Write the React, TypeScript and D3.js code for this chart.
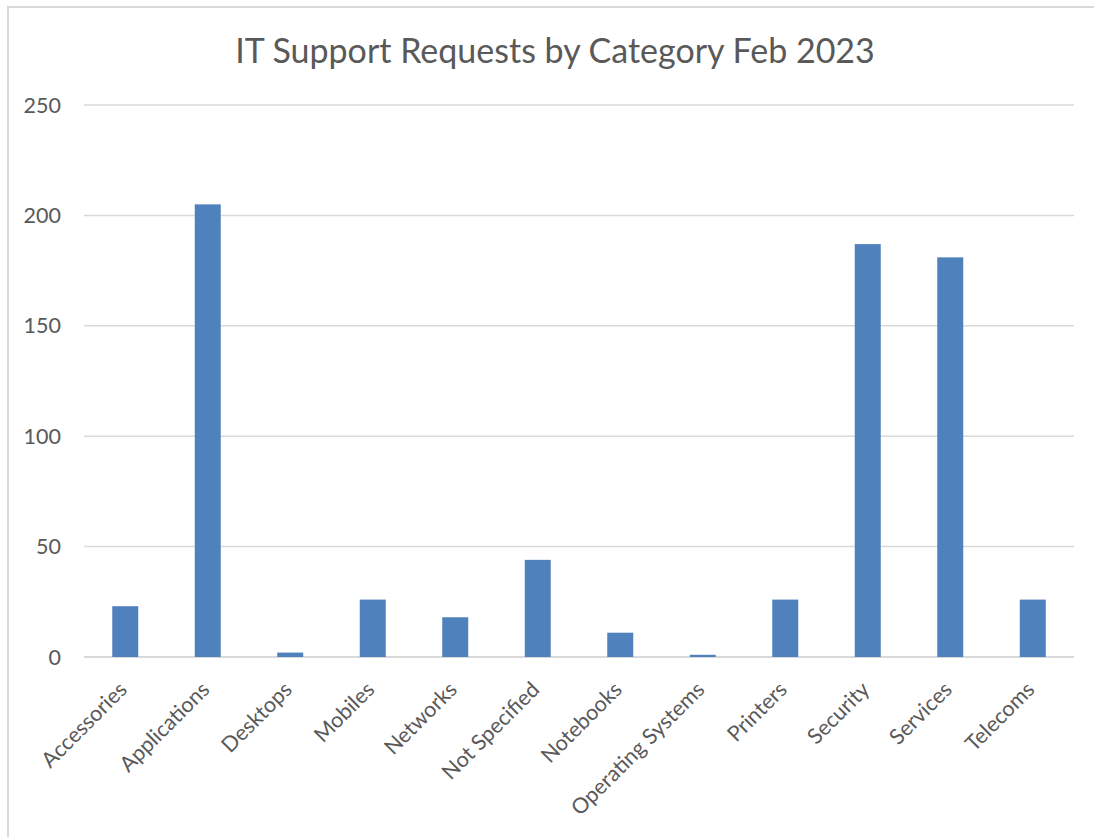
import React from "react";
import * as d3 from "d3";

const categories: string[] = [
  "Accessories",
  "Applications",
  "Desktops",
  "Mobiles",
  "Networks",
  "Not Specified",
  "Notebooks",
  "Operating Systems",
  "Printers",
  "Security",
  "Services",
  "Telecoms",
];
const requests: number[] = [23, 205, 2, 26, 18, 44, 11, 1, 26, 187, 181, 26];
const yTicks: number[] = [0, 50, 100, 150, 200, 250];
const title = "IT Support Requests by Category Feb 2023";

const W = 1094;
const H = 837;
const plot = { left: 84, right: 1074, top: 105, bottom: 657 };
const FONT = "Lato, 'Open Sans', sans-serif";
const TEXT = "#595959";
const GRID = "#D9D9D9";
const BAR = "#4F81BD";

export default function App() {
  const x = d3
    .scaleBand<string>()
    .domain(categories)
    .range([plot.left, plot.right])
    .paddingInner(0.685)
    .paddingOuter(0.3425);
  const y = d3.scaleLinear().domain([0, 250]).range([plot.bottom, plot.top]);

  return (
    <svg
      width={W}
      height={H}
      style={{ position: "absolute", left: 0, top: 0, background: "#fff" }}
      fontFamily={FONT}
    >
      <rect x={0} y={0} width={W} height={H} fill="#fff" />
      {/* chart border */}
      <line x1={8} x2={W} y1={7} y2={7} stroke={GRID} strokeWidth={2} />
      <line x1={8} x2={8} y1={6} y2={H} stroke={GRID} strokeWidth={2} />

      <text x={555} y={63} textAnchor="middle" fontSize={34} fill={TEXT}>
        {title}
      </text>

      {yTicks.map((t) => (
        <g key={t}>
          <line
            x1={plot.left}
            x2={plot.right}
            y1={y(t)}
            y2={y(t)}
            stroke={GRID}
            strokeWidth={t === 0 ? 2 : 1.5}
          />
          <text
            x={61}
            y={y(t)}
            dy="0.35em"
            textAnchor="end"
            fontSize={21.5}
            fill={TEXT}
          >
            {t}
          </text>
        </g>
      ))}

      {categories.map((c, i) => (
        <rect
          key={c}
          x={x(c)}
          y={y(requests[i])}
          width={x.bandwidth()}
          height={y(0) - y(requests[i])}
          fill={BAR}
        />
      ))}

      {categories.map((c) => {
        const cx = (x(c) as number) + x.bandwidth() / 2 + 3;
        const cy = 691;
        return (
          <text
            key={c}
            transform={`translate(${cx},${cy}) rotate(-45)`}
            textAnchor="end"
            fontSize={21.5}
            fill={TEXT}
          >
            {c}
          </text>
        );
      })}
    </svg>
  );
}
